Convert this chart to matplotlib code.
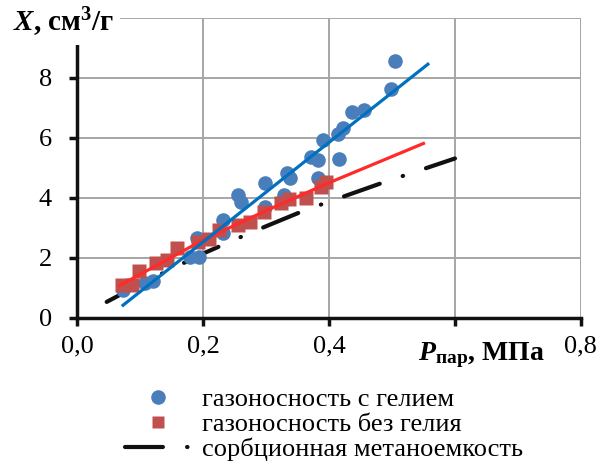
import matplotlib
matplotlib.use("Agg")
import matplotlib.pyplot as plt
from matplotlib.lines import Line2D

plt.rcParams['font.family'] = ['Liberation Serif', 'DejaVu Serif']
plt.rcParams['mathtext.fontset'] = 'custom'
plt.rcParams['mathtext.rm'] = 'Liberation Serif'
plt.rcParams['mathtext.it'] = 'Liberation Serif:italic'
plt.rcParams['mathtext.bf'] = 'Liberation Serif:bold'
plt.rcParams['mathtext.bfit'] = 'Liberation Serif:italic:bold'

# газоносность с гелием
p_he = [0.073, 0.108, 0.120, 0.179, 0.193, 0.190, 0.232, 0.232, 0.256, 0.261,
        0.298, 0.298, 0.328, 0.333, 0.338, 0.372, 0.383, 0.383, 0.390, 0.415,
        0.423, 0.416, 0.436, 0.455, 0.498, 0.505]
x_he = [0.92, 1.15, 1.22, 2.01, 2.01, 2.65, 3.26, 2.81, 4.09, 3.87,
        4.48, 3.70, 4.09, 4.81, 4.65, 5.37, 5.26, 4.65, 5.92, 6.14,
        6.31, 5.29, 6.87, 6.92, 7.61, 8.57]

# газоносность без гелия
p_no = [0.071, 0.087, 0.099, 0.126, 0.142, 0.159, 0.192, 0.210, 0.226, 0.256,
        0.275, 0.297, 0.323, 0.337, 0.363, 0.388, 0.396]
x_no = [1.09, 1.09, 1.56, 1.84, 1.92, 2.31, 2.53, 2.62, 2.92, 3.09,
        3.20, 3.53, 3.81, 3.95, 3.98, 4.35, 4.53]

# trend lines
p_he_fit = [0.073, 0.557]
x_he_fit = [0.42, 8.45]
p_no_fit = [0.068, 0.2, 0.3, 0.4, 0.55]
x_no_fit = [1.08, 2.59, 3.57, 4.50, 5.81]

# сорбционная метаноемкость
p_sorb = [0.047, 0.1, 0.2, 0.264, 0.3, 0.359, 0.4, 0.489, 0.522, 0.6]
x_sorb = [0.53, 1.12, 2.14, 2.73, 3.05, 3.56, 3.87, 4.53, 4.76, 5.31]

xticks = [0.0, 0.2, 0.4, 0.6, 0.8]
xticklabels = ['0,0', '0,2', '0,4', '', '0,8']
yticks = [0, 2, 4, 6, 8]

fig = plt.figure(figsize=(6.07, 4.66), dpi=100)
ax = fig.add_axes([0.127, 0.318, 0.83, 0.644])

blue = '#4a7ebb'
red = '#c0504d'
sorb_dash = (0, (9.1, 5.8, 0.1, 5.8))

ax.plot(p_sorb, x_sorb, color='#111111', lw=3, linestyle=sorb_dash,
        dash_capstyle='round', zorder=2)
ax.plot(p_he, x_he, 'o', color=blue, ms=10.5, mec='none', zorder=3)
ax.plot(p_no, x_no, 's', color=red, ms=10, mec='none', zorder=4)
ax.plot(p_no_fit, x_no_fit, color='#ff2a2a', lw=2.3, zorder=5)
ax.plot(p_he_fit, x_he_fit, color='#0070c0', lw=2.3, zorder=6)

ax.set_xlim(0, 0.8)
ax.set_ylim(0, 10)
ax.set_xticks(xticks)
ax.set_xticklabels(xticklabels)
ax.set_yticks(yticks)
ax.grid(True, color='#a6a6a6', lw=1.4)
ax.set_axisbelow(True)
ax.axhline(10, color='#a6a6a6', lw=1.4, zorder=0.5)
ax.axvline(0.8, color='#a6a6a6', lw=1.4, zorder=0.5)
for s in ['top', 'right']:
    ax.spines[s].set_visible(False)
for s in ['left', 'bottom']:
    ax.spines[s].set_linewidth(2.5)
    ax.spines[s].set_color('#111111')
ax.tick_params(axis='both', length=6, width=2.5, color='#111111',
               labelsize=19, direction='out')
ax.tick_params(axis='x', pad=7)
ax.tick_params(axis='y', pad=12)

# axis titles
fig.text(0.022, 0.952, r'$\mathbfit{X}$, см$^{\mathbf{3}}$/г', fontsize=21,
         fontweight='bold', ha='left', va='center',
         bbox=dict(facecolor='white', edgecolor='none', pad=4))
fig.text(0.688, 0.238, r'$\mathbfit{P}_{\mathbf{пар}}$, МПа', fontsize=20,
         fontweight='bold', ha='left', va='center',
         bbox=dict(facecolor='white', edgecolor='none', pad=3))

handles = [
    Line2D([], [], marker='o', color=blue, ms=10.5, mec='none', ls='none'),
    Line2D([], [], marker='s', color=red, ms=8.5, mec='none', ls='none'),
    Line2D([], [], color='#111111', lw=3, linestyle=sorb_dash,
           dash_capstyle='round'),
]
labels = ['газоносность с гелием', 'газоносность без гелия',
          'сорбционная метаноемкость']
fig.legend(handles, labels, loc='upper left', bbox_to_anchor=(0.206, 0.168),
           frameon=False, fontsize=19, handlelength=2.53,
           handletextpad=0.4, labelspacing=0.06, borderaxespad=0,
           borderpad=0)

fig.savefig('out.png', dpi=100)
